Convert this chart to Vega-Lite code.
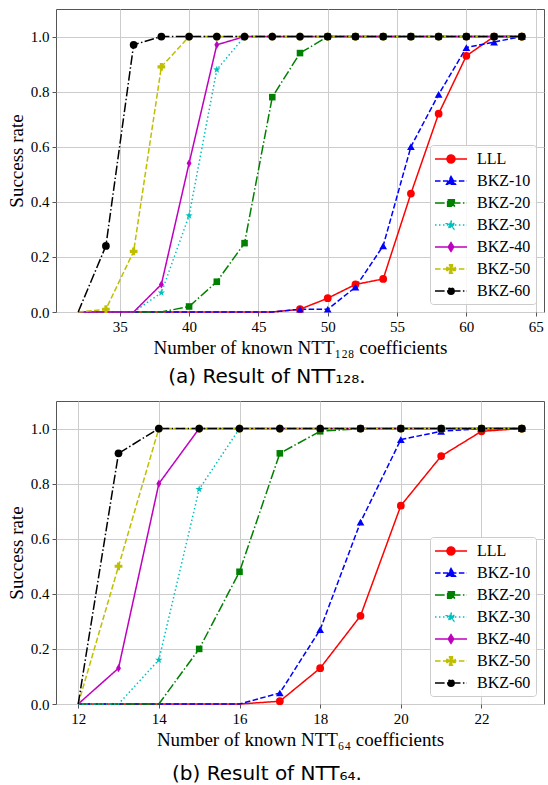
{
"$schema": "https://vega.github.io/schema/vega-lite/v6.json",
"background": "white",
"padding": {"left": 6, "top": 8, "right": 0, "bottom": 0},
"spacing": 12,
"datasets": {
"top": [
{"s":"LLL","x":32,"y":0},{"s":"LLL","x":34,"y":0},{"s":"LLL","x":36,"y":0},{"s":"LLL","x":38,"y":0},{"s":"LLL","x":40,"y":0},{"s":"LLL","x":42,"y":0},{"s":"LLL","x":44,"y":0},{"s":"LLL","x":46,"y":0},{"s":"LLL","x":48,"y":0.01},{"s":"LLL","x":50,"y":0.05},{"s":"LLL","x":52,"y":0.10},{"s":"LLL","x":54,"y":0.12},{"s":"LLL","x":56,"y":0.43},{"s":"LLL","x":58,"y":0.72},{"s":"LLL","x":60,"y":0.93},{"s":"LLL","x":62,"y":1},{"s":"LLL","x":64,"y":1},
{"s":"BKZ-10","x":32,"y":0},{"s":"BKZ-10","x":34,"y":0},{"s":"BKZ-10","x":36,"y":0},{"s":"BKZ-10","x":38,"y":0},{"s":"BKZ-10","x":40,"y":0},{"s":"BKZ-10","x":42,"y":0},{"s":"BKZ-10","x":44,"y":0},{"s":"BKZ-10","x":46,"y":0},{"s":"BKZ-10","x":48,"y":0.01},{"s":"BKZ-10","x":50,"y":0.01},{"s":"BKZ-10","x":52,"y":0.09},{"s":"BKZ-10","x":54,"y":0.24},{"s":"BKZ-10","x":56,"y":0.60},{"s":"BKZ-10","x":58,"y":0.79},{"s":"BKZ-10","x":60,"y":0.96},{"s":"BKZ-10","x":62,"y":0.98},{"s":"BKZ-10","x":64,"y":1},
{"s":"BKZ-20","x":32,"y":0},{"s":"BKZ-20","x":34,"y":0},{"s":"BKZ-20","x":36,"y":0},{"s":"BKZ-20","x":38,"y":0},{"s":"BKZ-20","x":40,"y":0.02},{"s":"BKZ-20","x":42,"y":0.11},{"s":"BKZ-20","x":44,"y":0.25},{"s":"BKZ-20","x":46,"y":0.78},{"s":"BKZ-20","x":48,"y":0.94},{"s":"BKZ-20","x":50,"y":1},{"s":"BKZ-20","x":52,"y":1},{"s":"BKZ-20","x":54,"y":1},{"s":"BKZ-20","x":56,"y":1},{"s":"BKZ-20","x":58,"y":1},{"s":"BKZ-20","x":60,"y":1},{"s":"BKZ-20","x":62,"y":1},{"s":"BKZ-20","x":64,"y":1},
{"s":"BKZ-30","x":32,"y":0},{"s":"BKZ-30","x":34,"y":0},{"s":"BKZ-30","x":36,"y":0},{"s":"BKZ-30","x":38,"y":0.07},{"s":"BKZ-30","x":40,"y":0.35},{"s":"BKZ-30","x":42,"y":0.88},{"s":"BKZ-30","x":44,"y":1},{"s":"BKZ-30","x":46,"y":1},{"s":"BKZ-30","x":48,"y":1},{"s":"BKZ-30","x":50,"y":1},{"s":"BKZ-30","x":52,"y":1},{"s":"BKZ-30","x":54,"y":1},{"s":"BKZ-30","x":56,"y":1},{"s":"BKZ-30","x":58,"y":1},{"s":"BKZ-30","x":60,"y":1},{"s":"BKZ-30","x":62,"y":1},{"s":"BKZ-30","x":64,"y":1},
{"s":"BKZ-40","x":32,"y":0},{"s":"BKZ-40","x":34,"y":0},{"s":"BKZ-40","x":36,"y":0},{"s":"BKZ-40","x":38,"y":0.10},{"s":"BKZ-40","x":40,"y":0.54},{"s":"BKZ-40","x":42,"y":0.97},{"s":"BKZ-40","x":44,"y":1},{"s":"BKZ-40","x":46,"y":1},{"s":"BKZ-40","x":48,"y":1},{"s":"BKZ-40","x":50,"y":1},{"s":"BKZ-40","x":52,"y":1},{"s":"BKZ-40","x":54,"y":1},{"s":"BKZ-40","x":56,"y":1},{"s":"BKZ-40","x":58,"y":1},{"s":"BKZ-40","x":60,"y":1},{"s":"BKZ-40","x":62,"y":1},{"s":"BKZ-40","x":64,"y":1},
{"s":"BKZ-50","x":32,"y":0},{"s":"BKZ-50","x":34,"y":0.01},{"s":"BKZ-50","x":36,"y":0.22},{"s":"BKZ-50","x":38,"y":0.89},{"s":"BKZ-50","x":40,"y":1},{"s":"BKZ-50","x":42,"y":1},{"s":"BKZ-50","x":44,"y":1},{"s":"BKZ-50","x":46,"y":1},{"s":"BKZ-50","x":48,"y":1},{"s":"BKZ-50","x":50,"y":1},{"s":"BKZ-50","x":52,"y":1},{"s":"BKZ-50","x":54,"y":1},{"s":"BKZ-50","x":56,"y":1},{"s":"BKZ-50","x":58,"y":1},{"s":"BKZ-50","x":60,"y":1},{"s":"BKZ-50","x":62,"y":1},{"s":"BKZ-50","x":64,"y":1},
{"s":"BKZ-60","x":32,"y":0},{"s":"BKZ-60","x":34,"y":0.24},{"s":"BKZ-60","x":36,"y":0.97},{"s":"BKZ-60","x":38,"y":1},{"s":"BKZ-60","x":40,"y":1},{"s":"BKZ-60","x":42,"y":1},{"s":"BKZ-60","x":44,"y":1},{"s":"BKZ-60","x":46,"y":1},{"s":"BKZ-60","x":48,"y":1},{"s":"BKZ-60","x":50,"y":1},{"s":"BKZ-60","x":52,"y":1},{"s":"BKZ-60","x":54,"y":1},{"s":"BKZ-60","x":56,"y":1},{"s":"BKZ-60","x":58,"y":1},{"s":"BKZ-60","x":60,"y":1},{"s":"BKZ-60","x":62,"y":1},{"s":"BKZ-60","x":64,"y":1}
],
"bottom": [
{"s":"LLL","x":12,"y":0},{"s":"LLL","x":13,"y":0},{"s":"LLL","x":14,"y":0},{"s":"LLL","x":15,"y":0},{"s":"LLL","x":16,"y":0},{"s":"LLL","x":17,"y":0.01},{"s":"LLL","x":18,"y":0.13},{"s":"LLL","x":19,"y":0.32},{"s":"LLL","x":20,"y":0.72},{"s":"LLL","x":21,"y":0.90},{"s":"LLL","x":22,"y":0.99},{"s":"LLL","x":23,"y":1},
{"s":"BKZ-10","x":12,"y":0},{"s":"BKZ-10","x":13,"y":0},{"s":"BKZ-10","x":14,"y":0},{"s":"BKZ-10","x":15,"y":0},{"s":"BKZ-10","x":16,"y":0},{"s":"BKZ-10","x":17,"y":0.04},{"s":"BKZ-10","x":18,"y":0.27},{"s":"BKZ-10","x":19,"y":0.66},{"s":"BKZ-10","x":20,"y":0.96},{"s":"BKZ-10","x":21,"y":0.99},{"s":"BKZ-10","x":22,"y":1},{"s":"BKZ-10","x":23,"y":1},
{"s":"BKZ-20","x":12,"y":0},{"s":"BKZ-20","x":13,"y":0},{"s":"BKZ-20","x":14,"y":0},{"s":"BKZ-20","x":15,"y":0.20},{"s":"BKZ-20","x":16,"y":0.48},{"s":"BKZ-20","x":17,"y":0.91},{"s":"BKZ-20","x":18,"y":0.99},{"s":"BKZ-20","x":19,"y":1},{"s":"BKZ-20","x":20,"y":1},{"s":"BKZ-20","x":21,"y":1},{"s":"BKZ-20","x":22,"y":1},{"s":"BKZ-20","x":23,"y":1},
{"s":"BKZ-30","x":12,"y":0},{"s":"BKZ-30","x":13,"y":0},{"s":"BKZ-30","x":14,"y":0.16},{"s":"BKZ-30","x":15,"y":0.78},{"s":"BKZ-30","x":16,"y":1},{"s":"BKZ-30","x":17,"y":1},{"s":"BKZ-30","x":18,"y":1},{"s":"BKZ-30","x":19,"y":1},{"s":"BKZ-30","x":20,"y":1},{"s":"BKZ-30","x":21,"y":1},{"s":"BKZ-30","x":22,"y":1},{"s":"BKZ-30","x":23,"y":1},
{"s":"BKZ-40","x":12,"y":0},{"s":"BKZ-40","x":13,"y":0.13},{"s":"BKZ-40","x":14,"y":0.80},{"s":"BKZ-40","x":15,"y":1},{"s":"BKZ-40","x":16,"y":1},{"s":"BKZ-40","x":17,"y":1},{"s":"BKZ-40","x":18,"y":1},{"s":"BKZ-40","x":19,"y":1},{"s":"BKZ-40","x":20,"y":1},{"s":"BKZ-40","x":21,"y":1},{"s":"BKZ-40","x":22,"y":1},{"s":"BKZ-40","x":23,"y":1},
{"s":"BKZ-50","x":12,"y":0},{"s":"BKZ-50","x":13,"y":0.50},{"s":"BKZ-50","x":14,"y":1},{"s":"BKZ-50","x":15,"y":1},{"s":"BKZ-50","x":16,"y":1},{"s":"BKZ-50","x":17,"y":1},{"s":"BKZ-50","x":18,"y":1},{"s":"BKZ-50","x":19,"y":1},{"s":"BKZ-50","x":20,"y":1},{"s":"BKZ-50","x":21,"y":1},{"s":"BKZ-50","x":22,"y":1},{"s":"BKZ-50","x":23,"y":1},
{"s":"BKZ-60","x":12,"y":0},{"s":"BKZ-60","x":13,"y":0.91},{"s":"BKZ-60","x":14,"y":1},{"s":"BKZ-60","x":15,"y":1},{"s":"BKZ-60","x":16,"y":1},{"s":"BKZ-60","x":17,"y":1},{"s":"BKZ-60","x":18,"y":1},{"s":"BKZ-60","x":19,"y":1},{"s":"BKZ-60","x":20,"y":1},{"s":"BKZ-60","x":21,"y":1},{"s":"BKZ-60","x":22,"y":1},{"s":"BKZ-60","x":23,"y":1}
]
},
"config": {
"view": {"stroke": "#555555", "strokeWidth": 1},
"axis": {"labelFont": "Liberation Serif", "labelFontSize": 15, "labelColor": "#000000", "titleFont": "Liberation Serif", "titleFontSize": 19, "titleFontWeight": "normal", "titleColor": "#000000", "gridColor": "#cccccc", "gridWidth": 1, "tickColor": "#555555", "tickSize": 4, "domain": false, "labelPadding": 3, "titlePadding": 4},
"legend": {"orient": "bottom-right", "offset": 8, "padding": 5, "fillColor": "rgba(255,255,255,0.85)", "strokeColor": "#cccccc", "cornerRadius": 3, "labelFont": "Liberation Serif", "labelFontSize": 16, "labelColor": "#000000", "symbolSize": 256, "symbolStrokeWidth": 1.5, "labelOffset": 24, "rowPadding": 5, "symbolOpacity": 1, "labelLimit": 200}
},
"vconcat": [
{
"width": 488, "height": 303,
"title": {"text": "(a) Result of NTT₁₂₈.", "orient": "bottom", "anchor": "middle", "dx": -33, "offset": 10, "font": "DejaVu Sans", "fontSize": 20, "fontWeight": "normal", "color": "#000000"},
"data": {"name": "top"},
"layer": [
{"mark": {"type": "line", "strokeWidth": 1.5},
"encoding": {
"x": {"field": "x", "type": "quantitative", "scale": {"domain": [30.4, 65.6], "nice": false, "zero": false}, "axis": {"values": [35,40,45,50,55,60,65], "title": "Number of known NTT₁₂₈ coefficients", "format": "d"}},
"y": {"field": "y", "type": "quantitative", "scale": {"domain": [0, 1.1], "nice": false}, "axis": {"values": [0,0.2,0.4,0.6,0.8,1.0], "format": ".1f", "title": "Success rate"}},
"color": {"field": "s", "type": "nominal", "scale": {"domain": ["LLL","BKZ-10","BKZ-20","BKZ-30","BKZ-40","BKZ-50","BKZ-60"], "range": ["#ff0000","#0000ff","#008000","#00bfbf","#bf00bf","#bfbf00","#000000"]}, "legend": null},
"strokeDash": {"field": "s", "type": "nominal", "scale": {"domain": ["LLL","BKZ-10","BKZ-20","BKZ-30","BKZ-40","BKZ-50","BKZ-60"], "range": [[1,0],[5.55,2.4],[9.6,2.4,1.5,2.4],[1.5,2.48],[1,0],[5.55,2.4],[9.6,2.4,1.5,2.4]]}, "legend": null}
}},
{"transform": [{"filter": "datum.y > 0"}],
"mark": {"type": "point", "filled": true, "opacity": 1, "size": 60},
"encoding": {
"x": {"field": "x", "type": "quantitative"},
"y": {"field": "y", "type": "quantitative"},
"color": {"field": "s", "type": "nominal", "scale": {"domain": ["LLL","BKZ-10","BKZ-20","BKZ-30","BKZ-40","BKZ-50","BKZ-60"], "range": ["#ff0000","#0000ff","#008000","#00bfbf","#bf00bf","#bfbf00","#000000"]}, "legend": null},
"shape": {"field": "s", "type": "nominal", "scale": {"domain": ["LLL","BKZ-10","BKZ-20","BKZ-30","BKZ-40","BKZ-50","BKZ-60"], "range": ["circle","triangle-up","M-0.85,-0.85H0.85V0.85H-0.85Z","M0,-1L0.235,-0.324L0.951,-0.309L0.38,0.124L0.588,0.809L0,0.4L-0.588,0.809L-0.38,0.124L-0.951,-0.309L-0.235,-0.324Z","M0,-1.05L0.63,0L0,1.05L-0.63,0Z","cross","circle"]}, "legend": null}
}},
{"data": {"values": []},
"mark": {"type": "point", "filled": true, "opacity": 1, "strokeWidth": 1.5},
"encoding": {
"fill": {"field": "s", "type": "nominal", "scale": {"domain": ["LLL","BKZ-10","BKZ-20","BKZ-30","BKZ-40","BKZ-50","BKZ-60"], "range": ["#ff0000","#0000ff","#008000","#00bfbf","#bf00bf","#bfbf00","#000000"]}, "legend": {"title": null}},
"stroke": {"field": "s", "type": "nominal", "scale": {"domain": ["LLL","BKZ-10","BKZ-20","BKZ-30","BKZ-40","BKZ-50","BKZ-60"], "range": ["#ff0000","#0000ff","#008000","#00bfbf","#bf00bf","#bfbf00","#000000"]}, "legend": {"title": null}},
"shape": {"field": "s", "type": "nominal", "scale": {"domain": ["LLL","BKZ-10","BKZ-20","BKZ-30","BKZ-40","BKZ-50","BKZ-60"], "range": ["M-1.125,0H2.875M1.375,0A0.5,0.5,0,1,1,0.375,0A0.5,0.5,0,1,1,1.375,0Z","M-1.125,0H2.875M0.875,-0.55L1.425,0.4L0.325,0.4Z","M-1.125,0H2.875M0.455,-0.42H1.295V0.42H0.455Z","M-1.125,0H2.875M0.875,-0.55L1.004,-0.178L1.398,-0.17L1.084,0.068L1.198,0.445L0.875,0.22L0.552,0.445L0.666,0.068L0.352,-0.17L0.746,-0.178Z","M-1.125,0H2.875M0.875,-0.55L1.215,0L0.875,0.55L0.535,0Z","M-1.125,0H2.875M0.695,-0.52H1.055V-0.18H1.395V0.18H1.055V0.52H0.695V0.18H0.355V-0.18H0.695Z","M-1.125,0H2.875M1.275,0A0.4,0.4,0,1,1,0.475,0A0.4,0.4,0,1,1,1.275,0Z"]}, "legend": {"title": null}},
"strokeDash": {"field": "s", "type": "nominal", "scale": {"domain": ["LLL","BKZ-10","BKZ-20","BKZ-30","BKZ-40","BKZ-50","BKZ-60"], "range": [[1,0],[5.55,2.4],[9.6,2.4,1.5,2.4],[1.5,2.48],[1,0],[5.55,2.4],[9.6,2.4,1.5,2.4]]}, "legend": {"title": null}}
}}
],
"resolve": {"scale": {"color": "independent", "fill": "independent", "stroke": "independent", "shape": "independent", "strokeDash": "independent"}}
},
{
"width": 488, "height": 303,
"title": {"text": "(b) Result of NTT₆₄.", "orient": "bottom", "anchor": "middle", "dx": -33, "offset": 15, "font": "DejaVu Sans", "fontSize": 20, "fontWeight": "normal", "color": "#000000"},
"data": {"name": "bottom"},
"layer": [
{"mark": {"type": "line", "strokeWidth": 1.5},
"encoding": {
"x": {"field": "x", "type": "quantitative", "scale": {"domain": [11.45, 23.55], "nice": false, "zero": false}, "axis": {"values": [12,14,16,18,20,22], "title": "Number of known NTT₆₄ coefficients", "format": "d"}},
"y": {"field": "y", "type": "quantitative", "scale": {"domain": [0, 1.1], "nice": false}, "axis": {"values": [0,0.2,0.4,0.6,0.8,1.0], "format": ".1f", "title": "Success rate"}},
"color": {"field": "s", "type": "nominal", "scale": {"domain": ["LLL","BKZ-10","BKZ-20","BKZ-30","BKZ-40","BKZ-50","BKZ-60"], "range": ["#ff0000","#0000ff","#008000","#00bfbf","#bf00bf","#bfbf00","#000000"]}, "legend": null},
"strokeDash": {"field": "s", "type": "nominal", "scale": {"domain": ["LLL","BKZ-10","BKZ-20","BKZ-30","BKZ-40","BKZ-50","BKZ-60"], "range": [[1,0],[5.55,2.4],[9.6,2.4,1.5,2.4],[1.5,2.48],[1,0],[5.55,2.4],[9.6,2.4,1.5,2.4]]}, "legend": null}
}},
{"transform": [{"filter": "datum.y > 0"}],
"mark": {"type": "point", "filled": true, "opacity": 1, "size": 60},
"encoding": {
"x": {"field": "x", "type": "quantitative"},
"y": {"field": "y", "type": "quantitative"},
"color": {"field": "s", "type": "nominal", "scale": {"domain": ["LLL","BKZ-10","BKZ-20","BKZ-30","BKZ-40","BKZ-50","BKZ-60"], "range": ["#ff0000","#0000ff","#008000","#00bfbf","#bf00bf","#bfbf00","#000000"]}, "legend": null},
"shape": {"field": "s", "type": "nominal", "scale": {"domain": ["LLL","BKZ-10","BKZ-20","BKZ-30","BKZ-40","BKZ-50","BKZ-60"], "range": ["circle","triangle-up","M-0.85,-0.85H0.85V0.85H-0.85Z","M0,-1L0.235,-0.324L0.951,-0.309L0.38,0.124L0.588,0.809L0,0.4L-0.588,0.809L-0.38,0.124L-0.951,-0.309L-0.235,-0.324Z","M0,-1.05L0.63,0L0,1.05L-0.63,0Z","cross","circle"]}, "legend": null}
}},
{"data": {"values": []},
"mark": {"type": "point", "filled": true, "opacity": 1, "strokeWidth": 1.5},
"encoding": {
"fill": {"field": "s", "type": "nominal", "scale": {"domain": ["LLL","BKZ-10","BKZ-20","BKZ-30","BKZ-40","BKZ-50","BKZ-60"], "range": ["#ff0000","#0000ff","#008000","#00bfbf","#bf00bf","#bfbf00","#000000"]}, "legend": {"title": null}},
"stroke": {"field": "s", "type": "nominal", "scale": {"domain": ["LLL","BKZ-10","BKZ-20","BKZ-30","BKZ-40","BKZ-50","BKZ-60"], "range": ["#ff0000","#0000ff","#008000","#00bfbf","#bf00bf","#bfbf00","#000000"]}, "legend": {"title": null}},
"shape": {"field": "s", "type": "nominal", "scale": {"domain": ["LLL","BKZ-10","BKZ-20","BKZ-30","BKZ-40","BKZ-50","BKZ-60"], "range": ["M-1.125,0H2.875M1.375,0A0.5,0.5,0,1,1,0.375,0A0.5,0.5,0,1,1,1.375,0Z","M-1.125,0H2.875M0.875,-0.55L1.425,0.4L0.325,0.4Z","M-1.125,0H2.875M0.455,-0.42H1.295V0.42H0.455Z","M-1.125,0H2.875M0.875,-0.55L1.004,-0.178L1.398,-0.17L1.084,0.068L1.198,0.445L0.875,0.22L0.552,0.445L0.666,0.068L0.352,-0.17L0.746,-0.178Z","M-1.125,0H2.875M0.875,-0.55L1.215,0L0.875,0.55L0.535,0Z","M-1.125,0H2.875M0.695,-0.52H1.055V-0.18H1.395V0.18H1.055V0.52H0.695V0.18H0.355V-0.18H0.695Z","M-1.125,0H2.875M1.275,0A0.4,0.4,0,1,1,0.475,0A0.4,0.4,0,1,1,1.275,0Z"]}, "legend": {"title": null}},
"strokeDash": {"field": "s", "type": "nominal", "scale": {"domain": ["LLL","BKZ-10","BKZ-20","BKZ-30","BKZ-40","BKZ-50","BKZ-60"], "range": [[1,0],[5.55,2.4],[9.6,2.4,1.5,2.4],[1.5,2.48],[1,0],[5.55,2.4],[9.6,2.4,1.5,2.4]]}, "legend": {"title": null}}
}}
],
"resolve": {"scale": {"color": "independent", "fill": "independent", "stroke": "independent", "shape": "independent", "strokeDash": "independent"}}
}
]
}
